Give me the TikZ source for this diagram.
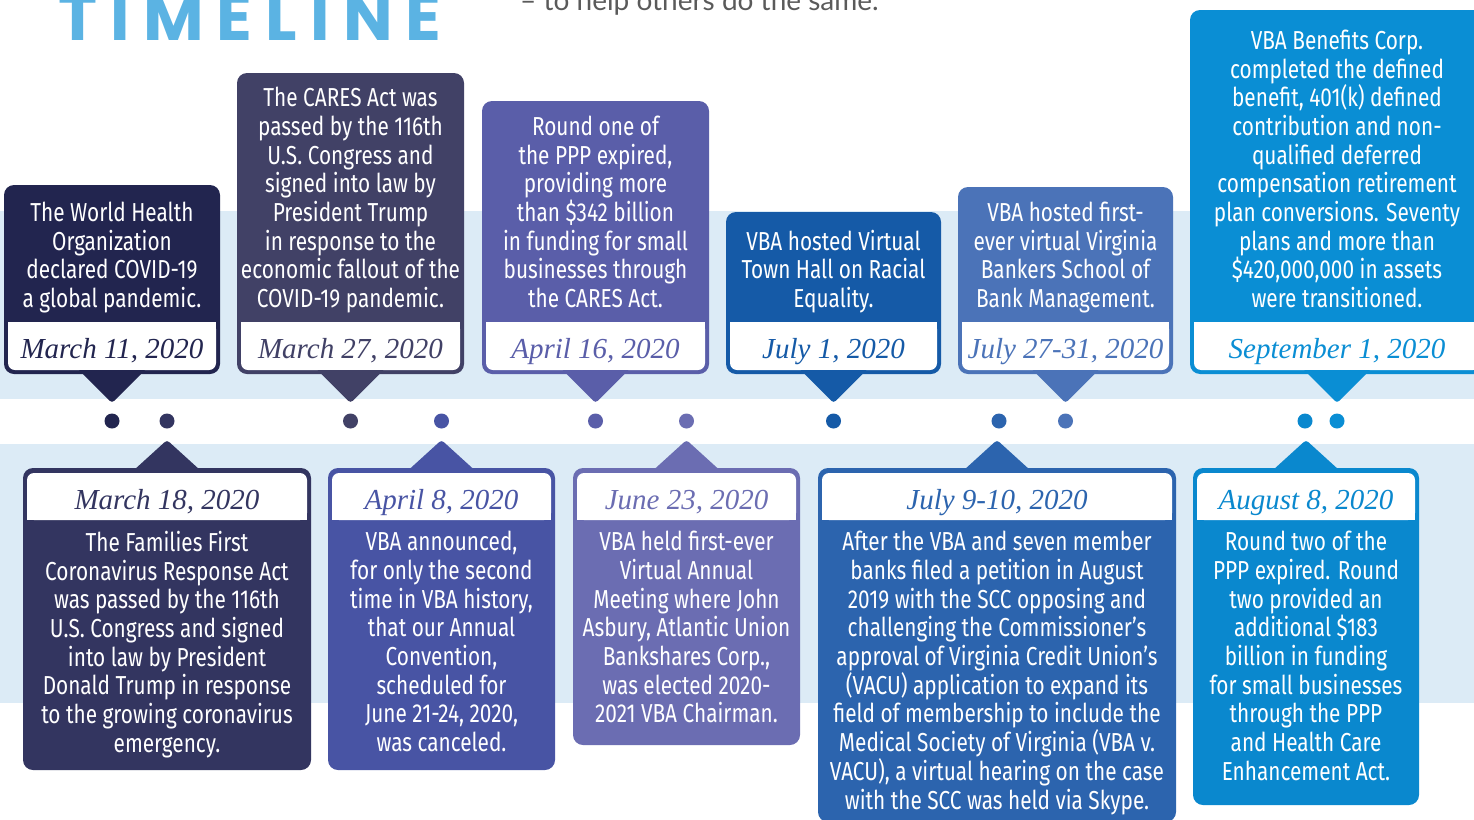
\documentclass[tikz,border=0pt]{standalone}
\usepackage{fontspec}
\usetikzlibrary{positioning}

\newfontfamily\bodyfam[FakeStretch=0.8]{Fira Sans}
\newfontfamily\datefam{Liberation Serif}
\newfontfamily\titlefam[LetterSpace=20]{Poppins}
\newfontfamily\tagfam{Lato}

\definecolor{band}{HTML}{DCEBF6}
\definecolor{titleblue}{HTML}{5BB3E3}
\definecolor{taggrey}{HTML}{5A5A5A}
\definecolor{navy}{HTML}{22254F}
\definecolor{slate}{HTML}{333560}
\definecolor{dusk}{HTML}{414166}
\definecolor{indigo}{HTML}{4854A4}
\definecolor{iris}{HTML}{5A5EA9}
\definecolor{lavender}{HTML}{6B6DB2}
\definecolor{cobalt}{HTML}{155AA7}
\definecolor{royal}{HTML}{2C64AE}
\definecolor{steel}{HTML}{4B73B8}
\definecolor{azure}{HTML}{0A88CE}
\definecolor{cerulean}{HTML}{0A8ED4}

\tikzset{
  bodytext/.style={text=white, align=center, inner sep=0pt,
    font=\bodyfam\fontsize{26}{28.7}\selectfont,
    execute at begin node=\strut, execute at end node=\strut},
  datetext/.style={inner sep=0pt, font=\datefam\itshape\fontsize{29}{32}\selectfont},
  dot/.style={circle, inner sep=0pt, minimum size=15pt}
}

% callout above the line: name, centre x, half width, top, colour, text, date
\newcommand{\topcallout}[7]{
  \fill[#5, rounded corners=10pt] ({#2-#3},#4) rectangle ({#2+#3},374);
  \fill[white, rounded corners=7pt] ({#2-#3+4},322) rectangle ({#2+#3-4},370);
  \fill[white] ({#2-#3+4},322) rectangle ({#2+#3-4},334);
  \fill[#5, rounded corners=3pt] ({#2-33},370) -- (#2,403) -- ({#2+33},370);
  \node[bodytext, anchor=south] (#1) at (#2,316.5) {#6};
  \node[datetext, text=#5, anchor=base] (#1date) at (#2,358) {#7};
}

% callout below the line: name, centre x, half width, bottom, colour, date, text
\newcommand{\botcallout}[7]{
  \fill[#5, rounded corners=3pt] ({#2-33},470) -- (#2,440) -- ({#2+33},470);
  \fill[#5, rounded corners=10pt] ({#2-#3},468) rectangle ({#2+#3},#4);
  \fill[white, rounded corners=7pt] ({#2-#3+4},473) rectangle ({#2+#3-4},520);
  \fill[white] ({#2-#3+4},508) rectangle ({#2+#3-4},520);
  \node[datetext, text=#5, anchor=base] (#1date) at (#2,509) {#6};
  \node[bodytext, anchor=north] (#1) at (#2,531) {#7};
}

\begin{document}
\begin{tikzpicture}[x=1pt, y=-1pt]
  \useasboundingbox (0,0) rectangle (1474,819);
  \clip (0,0) rectangle (1474,819);
  \fill[band] (0,211) rectangle (1474,399);
  \fill[band] (0,444) rectangle (1474,703);

  \node[anchor=base west, inner sep=0pt, text=titleblue,
    font=\titlefam\bfseries\fontsize{66}{72}\selectfont] (title) at (58,40) {TIMELINE};
  \node[anchor=base west, inner sep=0pt, text=taggrey,
    font=\tagfam\fontsize{28}{32}\selectfont] (tagline) at (520,10) {– to help others do the same.};

  \topcallout{mar11}{112}{108}{185}{navy}{The World Health\\Organization\\declared COVID-19\\a global pandemic.}{March 11, 2020}
  \topcallout{mar27}{350.5}{113.5}{73}{dusk}{The CARES Act was\\passed by the 116th\\U.S. Congress and\\signed into law by\\President Trump\\in response to the\\economic fallout of the\\COVID-19 pandemic.}{March 27, 2020}
  \topcallout{apr16}{595.5}{113.5}{101}{iris}{Round one of\\the PPP expired,\\providing more\\than \$342 billion\\in funding for small\\businesses through\\the CARES Act.}{April 16, 2020}
  \topcallout{jul1}{833.5}{107.5}{212}{cobalt}{VBA hosted Virtual\\Town Hall on Racial\\Equality.}{July 1, 2020}
  \topcallout{jul27}{1065.5}{107.5}{187}{steel}{VBA hosted first-\\ever virtual Virginia\\Bankers School of\\Bank Management.}{July 27-31, 2020}
  \topcallout{sep1}{1337}{147}{10}{cerulean}{VBA Benefits Corp.\\completed the defined\\benefit, 401(k) defined\\contribution and non-\\qualified deferred\\compensation retirement\\plan conversions. Seventy\\plans and more than\\\$420,000,000 in assets\\were transitioned.}{September 1, 2020}

  \botcallout{mar18}{167}{144}{770}{slate}{March 18, 2020}{The Families First\\Coronavirus Response Act\\was passed by the 116th\\U.S. Congress and signed\\into law by President\\Donald Trump in response\\to the growing coronavirus\\emergency.}
  \botcallout{apr8}{441.5}{113.5}{770}{indigo}{April 8, 2020}{VBA announced,\\for only the second\\time in VBA history,\\that our Annual\\Convention,\\scheduled for\\June 21-24, 2020,\\was canceled.}
  \botcallout{jun23}{686.5}{113.5}{745}{lavender}{June 23, 2020}{VBA held first-ever\\Virtual Annual\\Meeting where John\\Asbury, Atlantic Union\\Bankshares Corp.,\\was elected 2020-\\2021 VBA Chairman.}
  \botcallout{jul9}{997}{179}{822}{royal}{July 9-10, 2020}{After the VBA and seven member\\banks filed a petition in August\\2019 with the SCC opposing and\\challenging the Commissioner’s\\approval of Virginia Credit Union’s\\(VACU) application to expand its\\field of membership to include the\\Medical Society of Virginia (VBA v.\\VACU), a virtual hearing on the case\\with the SCC was held via Skype.}
  \botcallout{aug8}{1306}{113}{805}{azure}{August 8, 2020}{Round two of the\\PPP expired. Round\\two provided an\\additional \$183\\billion in funding\\for small businesses\\through the PPP\\and Health Care\\Enhancement Act.}

  % dots on the line
  \foreach \x/\c in {112/navy, 167/slate, 350.5/dusk, 441.5/indigo, 595.5/iris,
      686.5/lavender, 833.5/cobalt, 999/royal, 1065.5/steel, 1305/azure, 1337/cerulean}
    \node[dot, fill=\c] (dot\x) at (\x,421) {};
\end{tikzpicture}
\end{document}
